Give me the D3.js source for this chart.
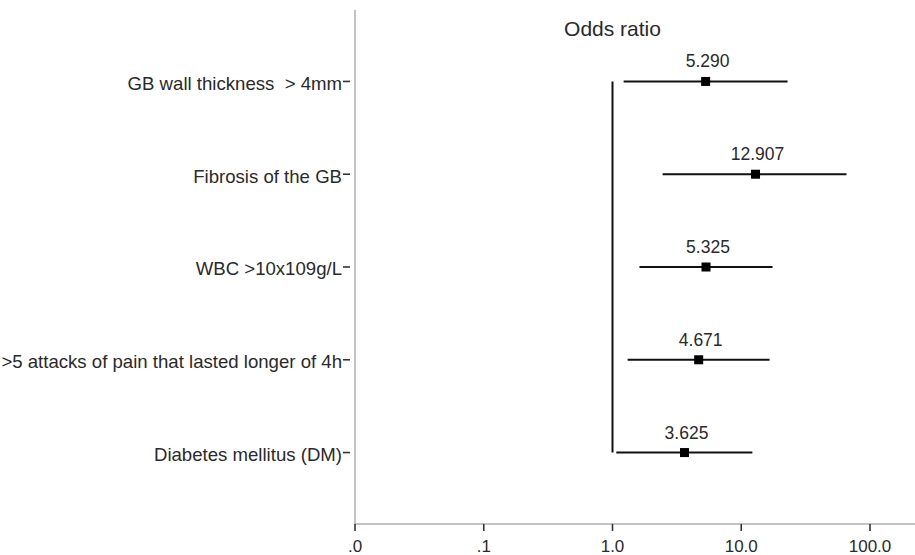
<!DOCTYPE html>
<html>
<head>
<meta charset="utf-8">
<script src="https://cdn.jsdelivr.net/npm/d3@7/dist/d3.min.js"></script>
<style>
  html, body { margin: 0; padding: 0; background: #fff; }
  svg { display: block; }
  text { font-family: "Liberation Sans", Arial, sans-serif; fill: #2a2a2a; }
</style>
</head>
<body>
<script>
const categories = [
  "GB wall thickness  > 4mm",
  "Fibrosis of the GB",
  "WBC >10x109g/L",
  ">5 attacks of pain that lasted longer of 4h",
  "Diabetes mellitus (DM)"
];
const oddsRatio = [5.290, 12.907, 5.325, 4.671, 3.625];
const oddsLabels = ["5.290", "12.907", "5.325", "4.671", "3.625"];
const ciLower = [1.22, 2.45, 1.62, 1.31, 1.07];
const ciUpper = [22.9, 65.7, 17.5, 16.6, 12.2];
const tickValues = [0.01, 0.1, 1, 10, 100];
const tickLabels = [".0", ".1", "1.0", "10.0", "100.0"];
const titleText = "Odds ratio";

const W = 915, H = 555;
const svg = d3.select("body").append("svg").attr("width", W).attr("height", H);

const x = d3.scaleLog().domain([0.01, 100]).range([355, 870]);
const y = d3.scalePoint().domain(categories).range([10, 524]).padding(0.77);
const axisY = 524;

// axes lines
svg.append("line").attr("x1", x(0.01)).attr("x2", W).attr("y1", axisY).attr("y2", axisY)
  .attr("stroke", "#8a8a8a").attr("stroke-width", 1.2);
svg.append("line").attr("x1", x(0.01)).attr("x2", x(0.01)).attr("y1", 10).attr("y2", axisY)
  .attr("stroke", "#9a9a9a").attr("stroke-width", 1.2);

// x ticks
const xt = svg.append("g").selectAll("g").data(tickValues).join("g")
  .attr("transform", d => `translate(${x(d)},${axisY})`);
xt.append("line").attr("y1", 0).attr("y2", 7).attr("stroke", "#333").attr("stroke-width", 1.6);
xt.append("text").attr("y", 28).attr("text-anchor", "middle").style("font-size", "17px")
  .text((d, i) => tickLabels[i]);

// y ticks & labels
const yt = svg.append("g").selectAll("g").data(categories).join("g")
  .attr("transform", d => `translate(0,${y(d)})`);
yt.append("line").attr("x1", 343).attr("x2", 350).attr("stroke", "#333").attr("stroke-width", 1.6);
yt.append("text").attr("x", 342).attr("dy", "0.45em").attr("text-anchor", "end")
  .style("font-size", "18.6px").style("white-space", "pre").text(d => d);

// reference line at OR = 1
svg.append("line").attr("x1", x(1)).attr("x2", x(1))
  .attr("y1", y(categories[0])).attr("y2", y(categories[categories.length - 1]))
  .attr("stroke", "#111").attr("stroke-width", 2);

// title
svg.append("text").attr("x", x(1)).attr("y", 36).attr("text-anchor", "middle")
  .style("font-size", "21px").text(titleText);

// CIs
const rows = categories.map((c, i) => ({ c, or: oddsRatio[i], lab: oddsLabels[i], lo: ciLower[i], hi: ciUpper[i] }));
const g = svg.append("g").selectAll("g").data(rows).join("g");
g.append("line").attr("x1", d => x(d.lo)).attr("x2", d => x(d.hi))
  .attr("y1", d => y(d.c)).attr("y2", d => y(d.c))
  .attr("stroke", "#111").attr("stroke-width", 2);
g.append("rect").attr("x", d => x(d.or) - 4.5).attr("y", d => y(d.c) - 4.5)
  .attr("width", 9).attr("height", 9).attr("fill", "#000");
g.append("text").attr("x", d => x(d.or) + 2).attr("y", d => y(d.c) - 14)
  .attr("text-anchor", "middle").style("font-size", "17.5px").text(d => d.lab);
</script>
</body>
</html>
